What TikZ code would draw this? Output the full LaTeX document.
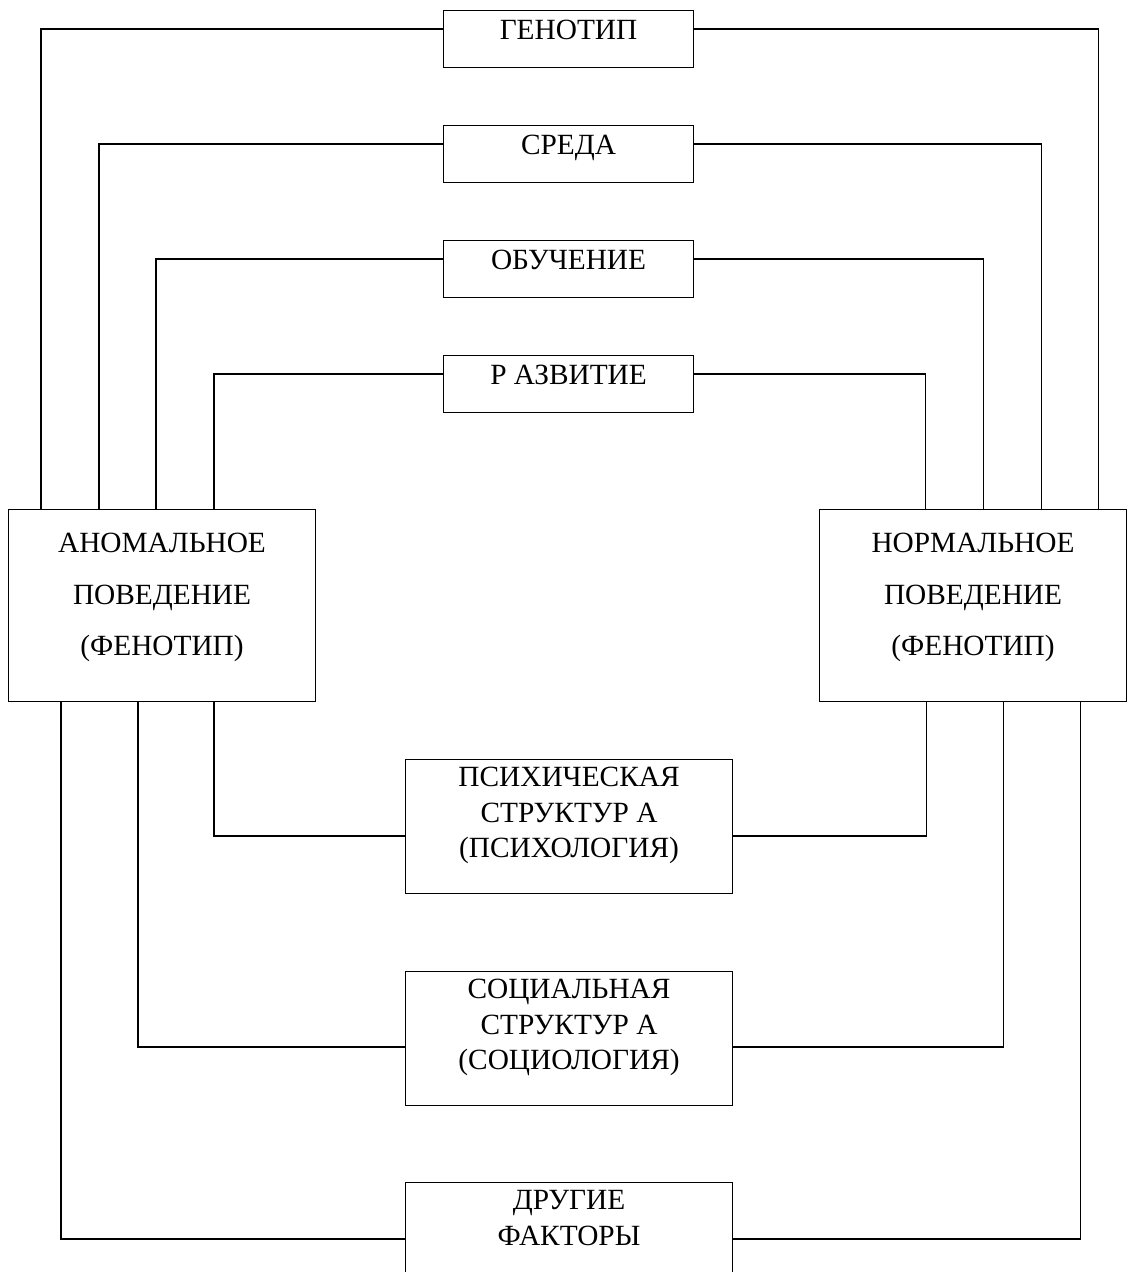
\documentclass[tikz,border=0pt]{standalone}
\usepackage{fontspec}
\setmainfont{Liberation Serif}
\usepackage{tikz}
\usetikzlibrary{positioning}

\newcommand{\boxtext}[2]{\fontsize{22}{#1}\selectfont\begin{tabular}[t]{@{}c@{}}#2\end{tabular}}

\tikzset{
  box/.style={draw, line width=0.8pt, inner sep=0pt, font=\fontsize{22}{26}\selectfont},
  topbox/.style={box, anchor=north west, minimum width=187.5pt, text height=21.75pt, text depth=21pt},
  bigbox/.style={box, anchor=north west, minimum width=230.25pt, text height=32.25pt, text depth=111.75pt},
  midbox/.style={box, anchor=north west, minimum width=245.25pt, text height=20.25pt, text depth=80.25pt},
  link/.style={line width=0.8pt}
}

\begin{document}
\begin{tikzpicture}[x=0.75pt, y=-0.75pt]
\clip (0,0) rectangle (1127,1272);
% factor boxes on top
\node[topbox] (gen) at (443,10) {ГЕНОТИП};
\node[topbox] (env) at (443,125) {СРЕДА};
\node[topbox] (learn) at (443,240) {ОБУЧЕНИЕ};
\node[topbox] (dev) at (443,355) {Р АЗВИТИЕ};
% behaviour
\node[bigbox] (anom) at (8,509) {\boxtext{38.6}{АНОМАЛЬНОЕ\\ПОВЕДЕНИЕ\\(ФЕНОТИП)}};
\node[bigbox] (norm) at (819,509) {\boxtext{38.6}{НОРМАЛЬНОЕ\\ПОВЕДЕНИЕ\\(ФЕНОТИП)}};
% structures below
\node[midbox] (psych) at (405,759) {\boxtext{26.6}{ПСИХИЧЕСКАЯ\\СТРУКТУР А\\(ПСИХОЛОГИЯ)}};
\node[midbox] (soc) at (405,971) {\boxtext{26.6}{СОЦИАЛЬНАЯ\\СТРУКТУР А\\(СОЦИОЛОГИЯ)}};
\node[midbox] (other) at (405,1182) {\boxtext{26.6}{ДРУГИЕ\\ФАКТОРЫ}};

\draw[link] ([yshift=-14.25pt]gen.north west) -| ([xshift=24.75pt]anom.north west);
\draw[link] ([yshift=-14.25pt]env.north west) -| ([xshift=68.25pt]anom.north west);
\draw[link] ([yshift=-14.25pt]learn.north west) -| ([xshift=111pt]anom.north west);
\draw[link] ([yshift=-14.25pt]dev.north west) -| ([xshift=154.5pt]anom.north west);
\draw[link] ([yshift=-14.25pt]gen.north east) -| ([xshift=-21.75pt]norm.north east);
\draw[link] ([yshift=-14.25pt]env.north east) -| ([xshift=-64.5pt]norm.north east);
\draw[link] ([yshift=-14.25pt]learn.north east) -| ([xshift=-108pt]norm.north east);
\draw[link] ([yshift=-14.25pt]dev.north east) -| ([xshift=-151.5pt]norm.north east);

\draw[link] ([xshift=154.5pt]anom.south west) |- ([yshift=-57.75pt]psych.north west);
\draw[link] ([xshift=97.5pt]anom.south west) |- ([yshift=-57pt]soc.north west);
\draw[link] ([xshift=39.75pt]anom.south west) |- ([yshift=-42.75pt]other.north west);
\draw[link] ([xshift=-150.75pt]norm.south east) |- ([yshift=-57.75pt]psych.north east);
\draw[link] ([xshift=-93pt]norm.south east) |- ([yshift=-57pt]soc.north east);
\draw[link] ([xshift=-35.25pt]norm.south east) |- ([yshift=-42.75pt]other.north east);
\end{tikzpicture}
\end{document}
